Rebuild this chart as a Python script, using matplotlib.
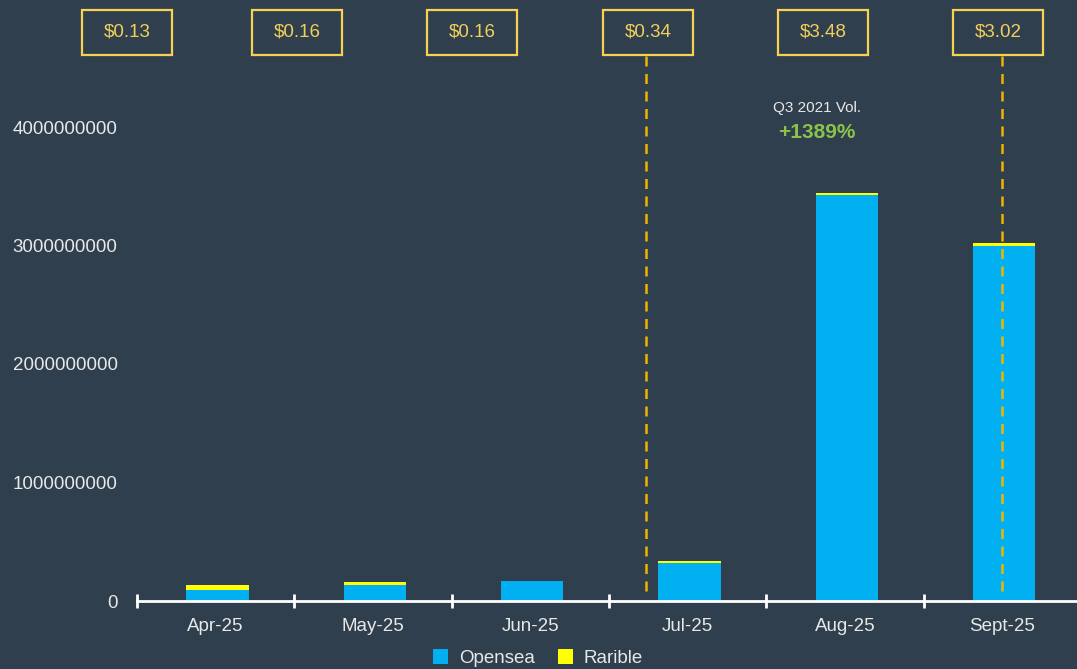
import numpy as np
import matplotlib
matplotlib.use("Agg")
import matplotlib.pyplot as plt
from matplotlib.patches import Rectangle
from matplotlib.ticker import FixedLocator, NullFormatter

plt.rcParams['font.family'] = ['Liberation Sans', 'DejaVu Sans']

# data
months = ['Apr-25', 'May-25', 'Jun-25', 'Jul-25', 'Aug-25', 'Sept-25']
opensea = [93e6, 135e6, 169e6, 321e6, 3.425e9, 2.996e9]
rarible = [42e6, 25e6, 3e6, 17e6, 19e6, 24e6]
prices = ['$0.13', '$0.16', '$0.16', '$0.34', '$3.48', '$3.02']
yticks = [0, 1e9, 2e9, 3e9, 4e9]

BG = '#2f3f4e'
BLUE = '#00b0f0'
YELLOW = '#ffff00'
GOLD = '#f7d154'
GOLD_TXT = '#f2cf5b'
DASH = '#f0b400'
TXT = '#e8e8e8'

W, H = 1077, 669
fig = plt.figure(figsize=(W / 100, H / 100), dpi=100, facecolor=BG)

# axes in pixel terms: x 137..1081, y-zero at 601, 4e9 at 127
ymax = 4.5e9
px_per = (601 - 127) / 4e9
top_px = 601 - ymax * px_per
ax = fig.add_axes([137 / W, 1 - 601 / H, 944 / W, (601 - top_px) / H])
ax.set_facecolor(BG)

x = np.arange(len(months))
bx = x + 0.012  # bars sit a hair right of the slot centre in the reference
ax.bar(bx, opensea, width=0.395, color=BLUE, label='Opensea', zorder=2)
ax.bar(bx, rarible, width=0.395, bottom=opensea, color=YELLOW, label='Rarible', zorder=2)

ax.set_xlim(-0.5, len(months) - 0.5)
ax.set_ylim(0, ymax)

for s in ['top', 'right', 'left']:
    ax.spines[s].set_visible(False)
ax.spines['bottom'].set_color('white')
ax.spines['bottom'].set_linewidth(2)
ax.spines['bottom'].set_zorder(3)

ax.set_yticks(yticks)
ax.set_yticklabels(['0', '1000000000', '2000000000', '3000000000', '4000000000'])
ax.tick_params(axis='y', length=0, pad=22, labelcolor=TXT, labelsize=13.5)
for lbl in ax.get_yticklabels():
    pass

ax.xaxis.set_major_locator(FixedLocator(np.arange(-0.5, len(months), 1.0)))
ax.xaxis.set_major_formatter(NullFormatter())
ax.xaxis.set_minor_locator(FixedLocator(x))
ax.set_xticklabels(months, minor=True)
ax.tick_params(axis='x', which='major', direction='inout', length=10, width=2, color='white')
ax.tick_params(axis='x', which='minor', length=0, pad=12, labelcolor=TXT, labelsize=13.5)
ax.tick_params(axis='y', pad=14)

# price boxes along the top (figure pixel positions)
box_cx = [127, 297, 472, 648, 823, 998]
for cx, p in zip(box_cx, prices):
    fig.patches.append(Rectangle(((cx - 45) / W, 1 - 54.5 / H), 90 / W, 45 / H,
                                 transform=fig.transFigure, facecolor='none',
                                 edgecolor=GOLD, linewidth=1.6))
    fig.text(cx / W, 1 - 32 / H, p, color=GOLD_TXT, fontsize=13.5,
             ha='center', va='center')

# dashed guide lines from the boxes down to the axis
for lx in [646, 1002]:
    fig.add_artist(plt.Line2D([lx / W, lx / W], [1 - 56 / H, 1 - 598 / H],
                              transform=fig.transFigure, color=DASH, lw=1.8,
                              linestyle=(0, (4, 3))))

fig.text(817 / W, 1 - 108 / H, 'Q3 2021 Vol.', color=TXT, fontsize=11,
         ha='center', va='center')
fig.text(817 / W, 1 - 132 / H, '+1389%', color='#8bc34a', fontsize=15,
         fontweight='bold', ha='center', va='center')

leg = fig.legend(loc='center', bbox_to_anchor=(538 / W, 1 - 658 / H), ncol=2,
                 frameon=False, fontsize=13.5, handlelength=0.8, handleheight=0.9,
                 handletextpad=0.6, columnspacing=1.2)
for t in leg.get_texts():
    t.set_color(TXT)

fig.savefig('out.png', dpi=100, facecolor=BG)
